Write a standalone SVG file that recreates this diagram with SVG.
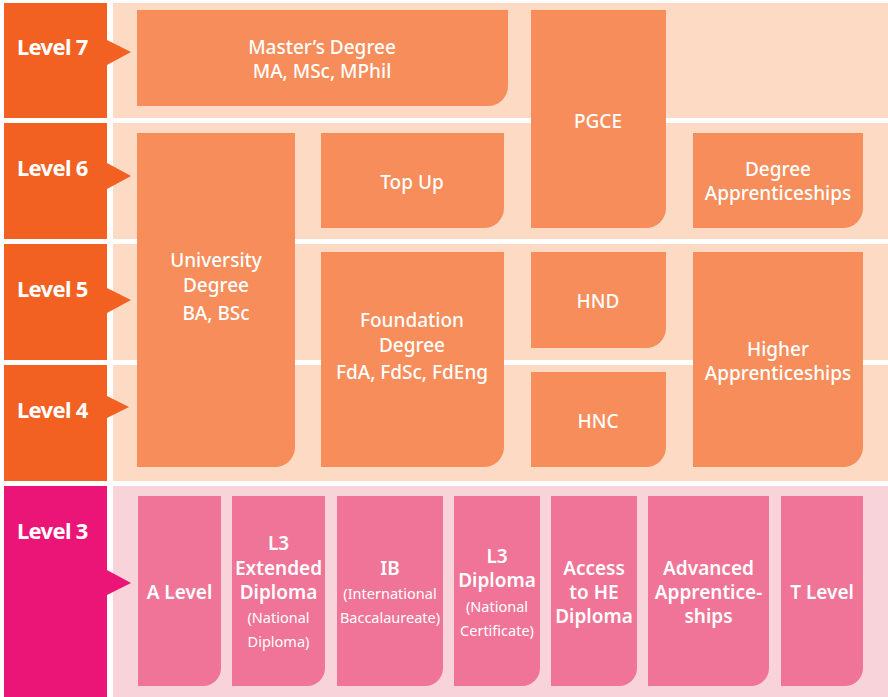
<svg xmlns="http://www.w3.org/2000/svg" width="888" height="697" viewBox="0 0 888 697">
<style>
.band{fill:#F26122}
.band3{fill:#EB1577}
.panel{fill:#FDDAC4}
.panel3{fill:#F8D4DA}
.box{fill:#F68D5A}
.pbox{fill:#EF7497}
text{font-family:"Noto Sans","Open Sans","Liberation Sans",sans-serif;fill:#FFFFFF;text-anchor:middle}
.lv{font-size:22px;font-weight:700;text-anchor:start;letter-spacing:-0.7px}
.t{font-size:19px;font-weight:500}
.t3{font-size:19px;font-weight:600}
.s{font-size:14.5px;font-weight:400}
</style>
<rect width="888" height="697" fill="#FFFFFF"/>
<g id="panels">
<rect class="panel" x="113" y="3" width="775" height="115"/>
<rect class="panel" x="113" y="123" width="775" height="116"/>
<rect class="panel" x="113" y="244" width="775" height="116"/>
<rect class="panel" x="113" y="365" width="775" height="116"/>
<rect class="panel3" x="113" y="486" width="775" height="211"/>
</g>
<g id="level7"><path class="band" d="M4,3 H107 V40 L131,52 L107,65 V118 H4 Z"/><text class="lv" x="17" y="55">Level 7</text></g>
<g id="level6"><path class="band" d="M4,123 H107 V163 L131,176 L107,189 V239 H4 Z"/><text class="lv" x="17" y="176">Level 6</text></g>
<g id="level5"><path class="band" d="M4,244 H107 V288 L131,300 L107,313 V360 H4 Z"/><text class="lv" x="17" y="297">Level 5</text></g>
<g id="level4"><path class="band" d="M4,365 H107 V396 L129,407 L107,418 V481 H4 Z"/><text class="lv" x="17" y="418">Level 4</text></g>
<g id="level3"><path class="band3" d="M4,486 H107 V570 L131,583 L107,595 V697 H4 Z"/><text class="lv" x="17" y="539">Level 3</text></g>

<g id="masters"><path class="box" d="M137,10 H508 V86 A20,20 0 0 1 488,106 H137 Z"/><text class="t" x="322" y="54">Master’s Degree</text><text class="t" x="322" y="78">MA, MSc, MPhil</text></g>
<g id="pgce"><path class="box" d="M531,10 H666 V208 A20,20 0 0 1 646,228 H531 Z"/><text class="t" x="598" y="128">PGCE</text></g>
<g id="topup"><path class="box" d="M321,133 H504 V208 A20,20 0 0 1 484,228 H321 Z"/><text class="t" x="412" y="189">Top Up</text></g>
<g id="degreeapp"><path class="box" d="M693,133 H863 V208 A20,20 0 0 1 843,228 H693 Z"/><text class="t" x="778" y="176">Degree</text><text class="t" x="778" y="200">Apprenticeships</text></g>
<g id="university"><path class="box" d="M137,133 H295 V447 A20,20 0 0 1 275,467 H137 Z"/><text class="t" x="216" y="267">University</text><text class="t" x="216" y="292">Degree</text><text class="t" x="216" y="320">BA, BSc</text></g>
<g id="foundation"><path class="box" d="M321,252 H504 V447 A20,20 0 0 1 484,467 H321 Z"/><text class="t" x="412" y="327">Foundation</text><text class="t" x="412" y="352">Degree</text><text class="t" x="412" y="379">FdA, FdSc, FdEng</text></g>
<g id="hnd"><path class="box" d="M531,252 H666 V328 A20,20 0 0 1 646,348 H531 Z"/><text class="t" x="598" y="308">HND</text></g>
<g id="hnc"><path class="box" d="M531,372 H666 V447 A20,20 0 0 1 646,467 H531 Z"/><text class="t" x="598" y="428">HNC</text></g>
<g id="higherapp"><path class="box" d="M693,252 H863 V447 A20,20 0 0 1 843,467 H693 Z"/><text class="t" x="778" y="356">Higher</text><text class="t" x="778" y="380">Apprenticeships</text></g>

<g id="alevel"><path class="pbox" d="M138,496 H221 V668 A18,18 0 0 1 203,686 H138 Z"/><text class="t3" x="179.5" y="599">A Level</text></g>
<g id="l3ext"><path class="pbox" d="M232,496 H325 V668 A18,18 0 0 1 307,686 H232 Z"/><text class="t3" x="278.5" y="550">L3</text><text class="t3" x="278.5" y="575">Extended</text><text class="t3" x="278.5" y="599">Diploma</text><text class="s" x="278.5" y="623">(National</text><text class="s" x="278.5" y="647">Diploma)</text></g>
<g id="ib"><path class="pbox" d="M337,496 H443 V668 A18,18 0 0 1 425,686 H337 Z"/><text class="t3" x="390" y="575">IB</text><text class="s" x="390" y="599">(International</text><text class="s" x="390" y="623">Baccalaureate)</text></g>
<g id="l3dip"><path class="pbox" d="M454,496 H540 V668 A18,18 0 0 1 522,686 H454 Z"/><text class="t3" x="497" y="563">L3</text><text class="t3" x="497" y="587">Diploma</text><text class="s" x="497" y="612">(National</text><text class="s" x="497" y="636">Certificate)</text></g>
<g id="access"><path class="pbox" d="M551,496 H637 V668 A18,18 0 0 1 619,686 H551 Z"/><text class="t3" x="594" y="575">Access</text><text class="t3" x="594" y="599">to HE</text><text class="t3" x="594" y="623">Diploma</text></g>
<g id="advanced"><path class="pbox" d="M648,496 H769 V668 A18,18 0 0 1 751,686 H648 Z"/><text class="t3" x="708.5" y="575">Advanced</text><text class="t3" x="708.5" y="599">Apprentice-</text><text class="t3" x="708.5" y="623">ships</text></g>
<g id="tlevel"><path class="pbox" d="M781,496 H863 V668 A18,18 0 0 1 845,686 H781 Z"/><text class="t3" x="822" y="599">T Level</text></g>
<g id="connectors"/>
</svg>
